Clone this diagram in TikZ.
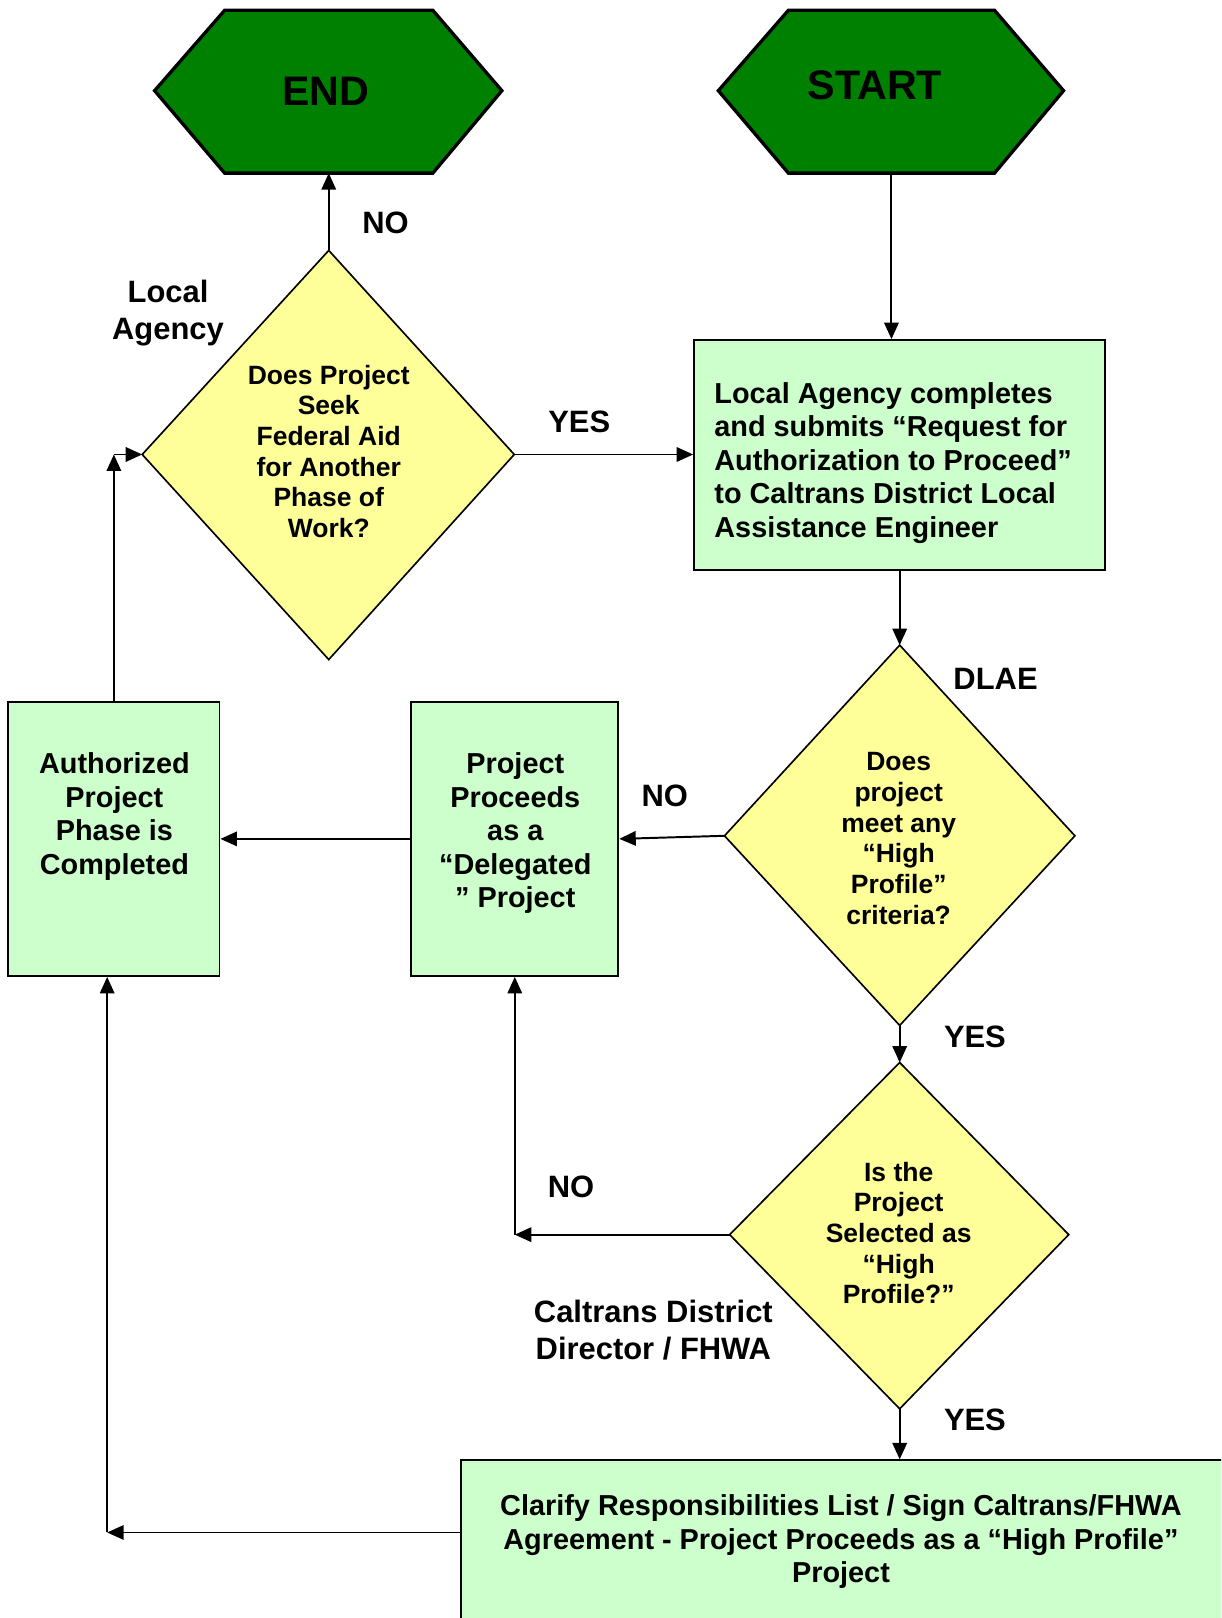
\documentclass[tikz,border=0pt]{standalone}
\usepackage{fontspec}
\setmainfont{Liberation Sans}
\usetikzlibrary{arrows.meta}
\definecolor{hexgreen}{HTML}{008000}
\definecolor{boxgreen}{HTML}{CCFFCC}
\definecolor{diayellow}{HTML}{FFFF99}
\tikzset{
  hexa/.style={draw=black, line width=3.2pt, fill=hexgreen, line join=miter},
  hextext/.style={inner sep=0pt, font=\bfseries\fontsize{40}{48}\selectfont},
  dia/.style={draw=black, line width=1.6pt, fill=diayellow, line join=miter},
  dtext/.style={inner sep=0pt, align=center, font=\bfseries\fontsize{25.7}{29.8}\selectfont},
  box/.style={draw=black, line width=1.8pt, fill=boxgreen, inner sep=0pt},
  btext/.style={inner sep=0pt, font=\bfseries\fontsize{28}{32.5}\selectfont},
  lbl/.style={inner sep=0pt, align=center, font=\bfseries\fontsize{30}{36}\selectfont},
  arr/.style={draw=black, line width=1.9pt, -{Triangle[length=16pt,width=14pt]}},
}
\begin{document}
\begin{tikzpicture}[x=1pt, y=-1pt]
\clip (0,0) rectangle (1185,1570);
\fill[white] (0,0) rectangle (1185,1570);

% hexagons
\draw[hexa] (150,88) -- (218,10) -- (420,10) -- (487,88) -- (420,168) -- (218,168) -- cycle;
\node[hextext] (endh) at (316,89) {END};
\coordinate (endb) at (319,168);
\draw[hexa] (697,88) -- (765,10) -- (965,10) -- (1032,88) -- (965,168) -- (765,168) -- cycle;
\node[hextext] (starth) at (849,83) {START};
\coordinate (startb) at (865,168);

% diamond 1
\coordinate (d1n) at (319,243);
\coordinate (d1e) at (499,441);
\coordinate (d1s) at (319,640);
\coordinate (d1w) at (138,441);
\draw[dia] (d1n) -- (d1e) -- (d1s) -- (d1w) -- cycle;
\node[dtext] (d1) at (319,438) {Does Project\\Seek\\Federal Aid\\for Another\\Phase of\\Work?};

% diamond 2
\coordinate (d2n) at (873,626);
\coordinate (d2e) at (1043,811);
\coordinate (d2s) at (873,995);
\coordinate (d2w) at (703,811);
\draw[dia] (d2n) -- (d2e) -- (d2s) -- (d2w) -- cycle;
\node[dtext] (d2) at (872,813.5) {Does\\project\\meet any\\“High\\Profile”\\criteria?};

% diamond 3
\coordinate (d3n) at (873,1031);
\coordinate (d3e) at (1037,1198);
\coordinate (d3s) at (873,1367);
\coordinate (d3w) at (708,1198);
\draw[dia] (d3n) -- (d3e) -- (d3s) -- (d3w) -- cycle;
\node[dtext] (d3) at (872,1196.5) {Is the\\Project\\Selected as\\“High\\Profile?”};

% boxes
\node[box, minimum width=399pt, minimum height=223pt] (la) at (873,441.5) {};
\node[btext, align=left, anchor=west] (latext) at (693,449) {Local Agency completes\\and submits “Request for\\Authorization to Proceed”\\to Caltrans District Local\\Assistance Engineer};

\node[box, minimum width=201pt, minimum height=266pt] (deleg) at (499.5,814) {};
\node[btext, align=center] (delegtext) at (500,808.5) {Project\\Proceeds\\as a\\“Delegated\\” Project};

\node[box, minimum width=205pt, minimum height=266pt] (auth) at (110.5,814) {};
\node[btext, align=center] (authtext) at (111,792.5) {Authorized\\Project\\Phase is\\Completed};

\node[box, minimum width=740pt, minimum height=156pt] (bb) at (817,1495) {};
\node[btext, align=center] (bbtext) at (816,1496) {Clarify Responsibilities List / Sign Caltrans/FHWA\\Agreement - Project Proceeds as a “High Profile”\\Project};

% labels
\node[lbl] (lno1) at (374,216) {NO};
\node[lbl] (lla) at (163,304) {Local\\Agency};
\node[lbl] (lyes1) at (562,409) {YES};
\node[lbl] (ldlae) at (966,659) {DLAE};
\node[lbl] (lno2) at (645,772) {NO};
\node[lbl] (lyes2) at (946,1006) {YES};
\node[lbl] (lno3) at (554,1152) {NO};
\node[lbl] (lcd) at (634,1291) {Caltrans District\\Director / FHWA};
\node[lbl] (lyes3) at (946,1378) {YES};

% connectors
\coordinate (c1) at (110.5,441);
\coordinate (c2) at (499.5,1198);
\coordinate (c3) at (104,1487);

\draw[arr] (d1n) -- (endb);
\draw[arr] (startb) -- (startb |- la.north);
\draw[arr] (d1e) -- (d1e -| la.west);
\draw[arr] (la.south) -- (d2n);
\draw[arr] (d2w) -- (deleg.east);
\draw[arr] (deleg.west) -- (auth.east);
\draw[arr] (auth.north) -- (c1);
\draw[arr] (c1) -- (d1w);
\draw[arr] (d2s) -- (d3n);
\draw[arr] (d3w) -- (c2);
\draw[arr] (c2) -- (deleg.south);
\draw[arr] (d3s) -- (d3s |- bb.north);
\draw[arr] (c3 -| bb.west) -- (c3);
\draw[arr] (c3) -- (c3 |- auth.south);
\end{tikzpicture}
\end{document}
